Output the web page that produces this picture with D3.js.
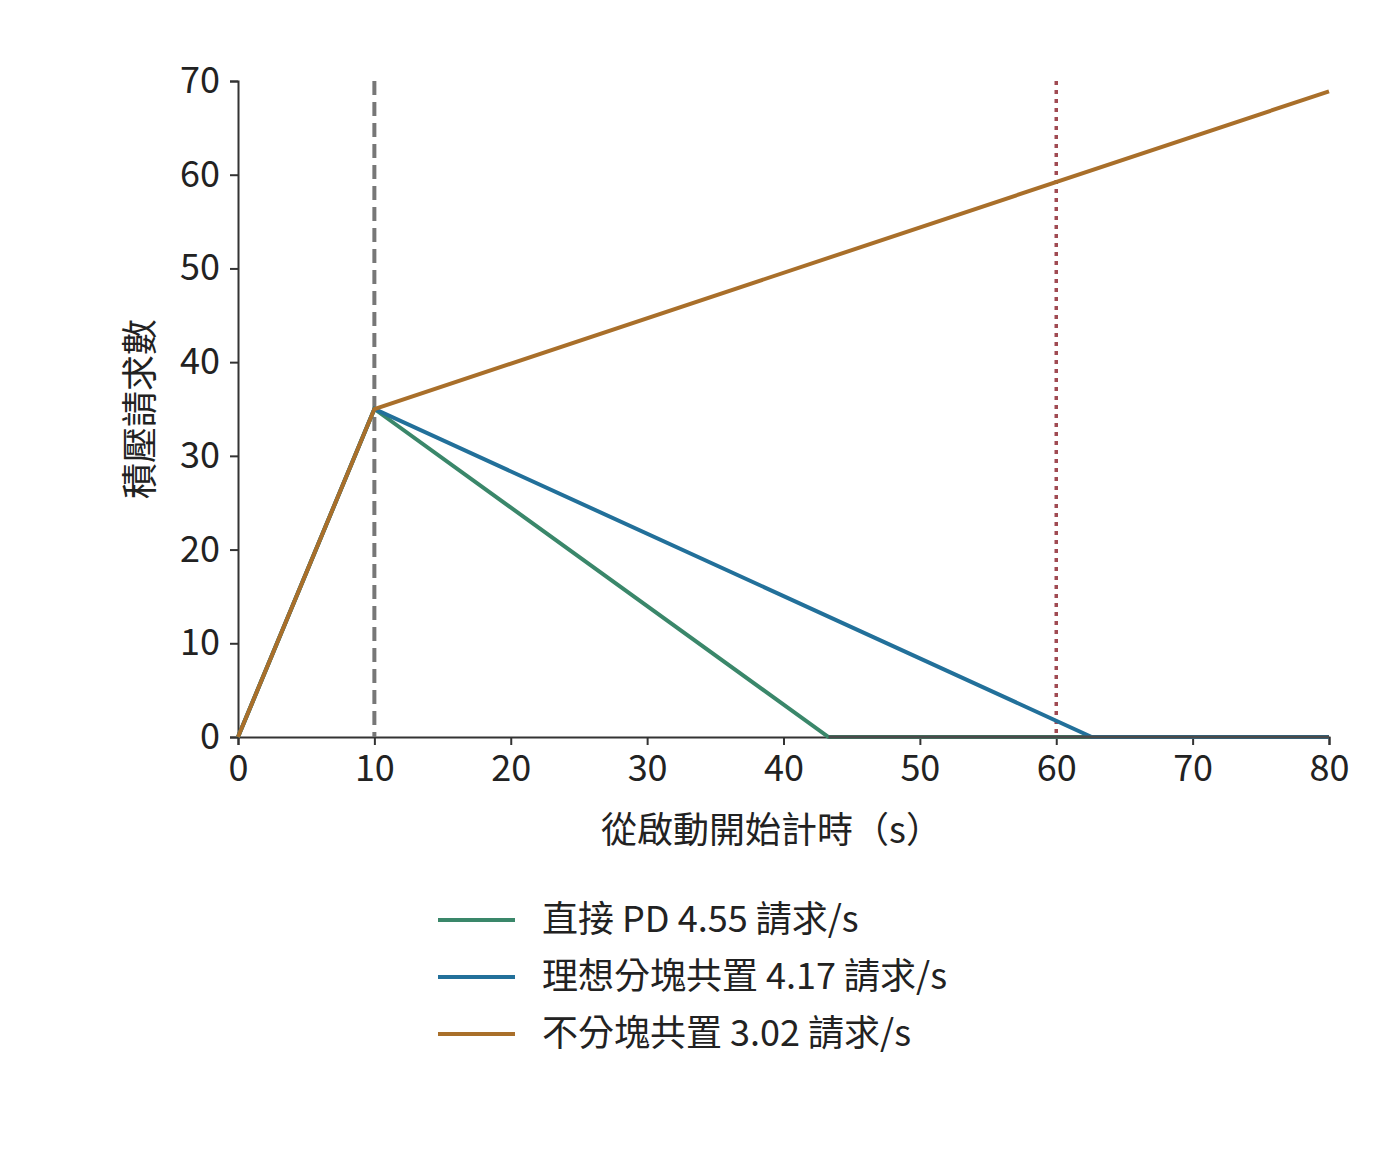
<!DOCTYPE html>
<html><head><meta charset="utf-8">
<script src="https://cdn.jsdelivr.net/npm/d3@7"></script>
<style>body{margin:0;background:#fff}text{font-family:"Noto Sans CJK TC","Noto Sans",sans-serif}</style>
</head><body><div id="chart"></div>
<script>
const seriesNames = ["直接 PD 4.55 請求/s", "理想分塊共置 4.17 請求/s", "不分塊共置 3.02 請求/s"]
const seriesColors = ["#3a876a", "#22709a", "#a96f2a"]
const seriesTimes = [[0, 10, 43.3, 80], [0, 10, 62.6, 80], [0, 10, 80]]
const seriesValues = [[0, 35, 0, 0], [0, 35, 0, 0], [0, 35, 68.9]]
const xTicks = [0, 10, 20, 30, 40, 50, 60, 70, 80]
const yTicks = [0, 10, 20, 30, 40, 50, 60, 70]

const W = 1400, H = 1152
const svg = d3.select("#chart").append("svg").attr("width", W).attr("height", H)
const x = d3.scaleLinear().domain([0, 80]).range([238, 1329])
const y = d3.scaleLinear().domain([0, 70]).range([737, 81])

svg.append("g").attr("transform", "translate(0,737)")
  .call(d3.axisBottom(x).tickValues(xTicks).tickSize(8).tickPadding(10))
svg.append("g").attr("transform", "translate(238,0)")
  .call(d3.axisLeft(y).tickValues(yTicks).tickSize(8).tickPadding(10))
svg.selectAll(".domain,.tick line").attr("stroke", "#333").attr("stroke-width", 2)
svg.selectAll(".tick text").attr("font-size", 36).attr("fill", "#222")

svg.append("line").attr("x1", x(10)).attr("x2", x(10)).attr("y1", y(70)).attr("y2", y(0))
  .attr("stroke", "#777").attr("stroke-width", 4).attr("stroke-dasharray", "14,7")
svg.append("line").attr("x1", x(60)).attr("x2", x(60)).attr("y1", y(70)).attr("y2", y(0))
  .attr("stroke", "#a04a52").attr("stroke-width", 3.5).attr("stroke-dasharray", "4,5")

const line = d3.line().x(d => x(d[0])).y(d => y(d[1]))
seriesNames.forEach((n, i) => {
  const pts = seriesTimes[i].map((t, j) => [t, seriesValues[i][j]])
  svg.append("path").attr("d", line(pts)).attr("fill", "none")
    .attr("stroke", seriesColors[i]).attr("stroke-width", 4)
})
svg.append("line").attr("x1", x(43.3)).attr("x2", x(80)).attr("y1", y(0)).attr("y2", y(0))
  .attr("stroke", "#4a4a4a").attr("stroke-width", 3)

svg.append("text").attr("x", (x(0) + x(80)) / 2 - 12).attr("y", 843).attr("text-anchor", "middle")
  .attr("font-size", 36).attr("fill", "#222").text("從啟動開始計時（s）")
svg.append("text").attr("transform", "translate(153,409) rotate(-90)").attr("text-anchor", "middle")
  .attr("font-size", 36).attr("fill", "#222").text("積壓請求數")

seriesNames.forEach((n, i) => {
  const ly = 920 + i * 57
  svg.append("line").attr("x1", 438).attr("x2", 515).attr("y1", ly).attr("y2", ly)
    .attr("stroke", seriesColors[i]).attr("stroke-width", 4)
  svg.append("text").attr("x", 542).attr("y", ly + 12).attr("font-size", 36).attr("fill", "#222").text(n)
})
</script></body></html>
